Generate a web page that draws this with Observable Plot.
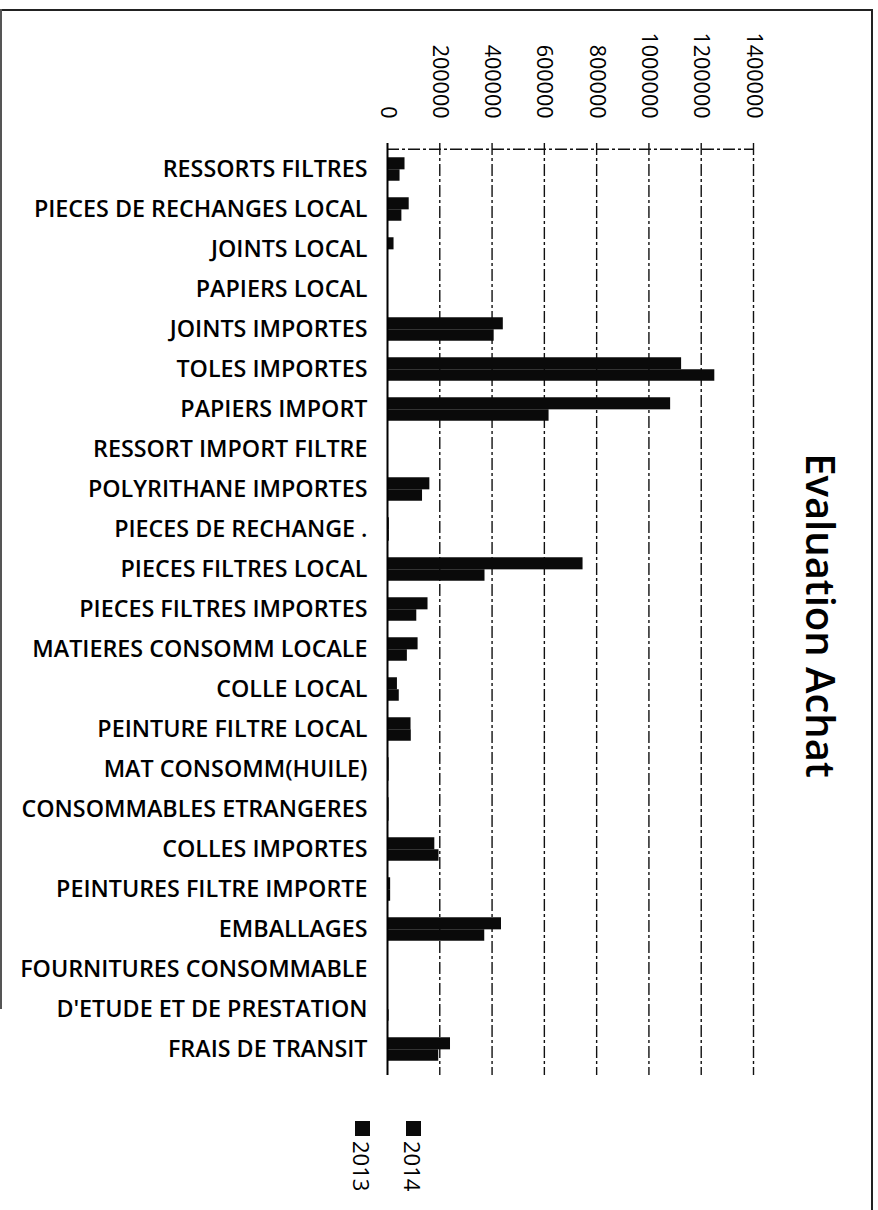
<!DOCTYPE html>
<html>
<head>
<meta charset="utf-8">
<script src="https://cdn.jsdelivr.net/npm/d3@7"></script>
<script src="https://cdn.jsdelivr.net/npm/@observablehq/plot@0.6"></script>
<style>
  body { margin: 0; background: #fff; }
  #wrap { position: relative; width: 878px; height: 1210px; overflow: hidden; background: #fff; }
  #border { position: absolute; left: 0; top: 9px; width: 873px; height: 1220px; border-top: 2px solid #222; border-right: 2px solid #222; box-sizing: border-box; }
  #lborder { position: absolute; left: 0; top: 9px; width: 2px; height: 1000px; background: #555; }
  .leg { position: absolute; top: 1121px; writing-mode: vertical-rl; font-family: 'Open Sans', sans-serif; font-size: 22px; line-height: 20px; color: #000; white-space: nowrap; }
  .leg .sw { display: inline-block; width: 15px; height: 15px; background: #0a0a0a; margin-bottom: 5px; }
</style>
</head>
<body>
<div id="wrap">
  <div id="border"></div>
  <div id="lborder"></div>
</div>
<script>
const categories = [
  "RESSORTS FILTRES",
  "PIECES DE RECHANGES LOCAL",
  "JOINTS LOCAL",
  "PAPIERS LOCAL",
  "JOINTS IMPORTES",
  "TOLES IMPORTES",
  "PAPIERS IMPORT",
  "RESSORT IMPORT FILTRE",
  "POLYRITHANE IMPORTES",
  "PIECES DE RECHANGE .",
  "PIECES FILTRES LOCAL",
  "PIECES FILTRES IMPORTES",
  "MATIERES CONSOMM LOCALE",
  "COLLE LOCAL",
  "PEINTURE FILTRE LOCAL",
  "MAT CONSOMM(HUILE)",
  "CONSOMMABLES ETRANGERES",
  "COLLES IMPORTES",
  "PEINTURES FILTRE IMPORTE",
  "EMBALLAGES",
  "FOURNITURES CONSOMMABLE",
  "D'ETUDE ET DE PRESTATION",
  "FRAIS DE TRANSIT"
];
const values2014 = [67000, 83000, 25000, 0, 443000, 1125000, 1083000, 0, 162000, 7000, 748000, 155000, 117000, 38000, 90000, 6000, 6000, 181000, 12000, 436000, 0, 0, 241000];
const values2013 = [48000, 55000, 3000, 0, 408000, 1252000, 618000, 0, 134000, 7000, 373000, 112000, 76000, 45000, 91000, 6000, 6000, 197000, 12000, 372000, 0, 6000, 196000];
const xTicks = [0, 200000, 400000, 600000, 800000, 1000000, 1200000, 1400000];
const years = ["2014", "2013"];
const title = "Evaluation Achat";

const W = 878, H = 1210;
const mTop = 143, mBottom = 135, mLeft = 387, mRight = 125;
const bw = (H - mTop - mBottom) / categories.length;
const barH = 12;

const d14 = categories.map((c, i) => ({cat: c, v: values2014[i]}));
const d13 = categories.map((c, i) => ({cat: c, v: values2013[i]}));

const chart = Plot.plot({
  width: W, height: H,
  marginTop: mTop, marginBottom: mBottom, marginLeft: mLeft, marginRight: mRight,
  style: {fontFamily: "'Open Sans', sans-serif", background: "transparent", color: "#000", overflow: "visible"},
  x: {domain: [0, 1400000], axis: null},
  y: {domain: categories, padding: 0, axis: null},
  marks: [
    Plot.ruleX(xTicks.slice(1), {stroke: "#111", strokeWidth: 1.4, strokeDasharray: "12,3,3,3"}),
    Plot.ruleY([categories[0]], {x1: 0, x2: 1400000, dy: -bw / 2, stroke: "#111", strokeWidth: 1.4, strokeDasharray: "12,3,3,3"}),
    Plot.barX(d14, {x: "v", y: "cat", fill: "#0a0a0a", insetTop: bw / 2 - barH, insetBottom: bw / 2 - 0.6}),
    Plot.barX(d13, {x: "v", y: "cat", fill: "#0a0a0a", insetTop: bw / 2, insetBottom: bw / 2 - barH}),
    Plot.ruleX([0], {stroke: "#000", strokeWidth: 2}),
    Plot.text(categories, {y: d => d, frameAnchor: "left", textAnchor: "end", dx: -20, fontSize: 23.3, fontWeight: 600, fill: "#000"}),
    Plot.text(xTicks, {x: d => d, frameAnchor: "top", dy: -25, rotate: 90, textAnchor: "end", lineAnchor: "middle", text: d => String(d), fontSize: 21.5, fill: "#000"}),
    Plot.text([title], {frameAnchor: "right", dx: 65, dy: 6, rotate: 90, textAnchor: "middle", lineAnchor: "middle", fontSize: 40, fontWeight: 600, fill: "#000"})
  ]
});
chart.style.position = "absolute";
chart.style.left = "0px";
chart.style.top = "0px";
const wrap = document.getElementById("wrap");
wrap.appendChild(chart);

const legX = {"2014": 403, "2013": 352};
years.forEach(y => {
  const d = document.createElement("div");
  d.className = "leg";
  d.style.left = legX[y] + "px";
  d.innerHTML = '<span class="sw"></span>' + y;
  wrap.appendChild(d);
});
</script>
</body>
</html>
